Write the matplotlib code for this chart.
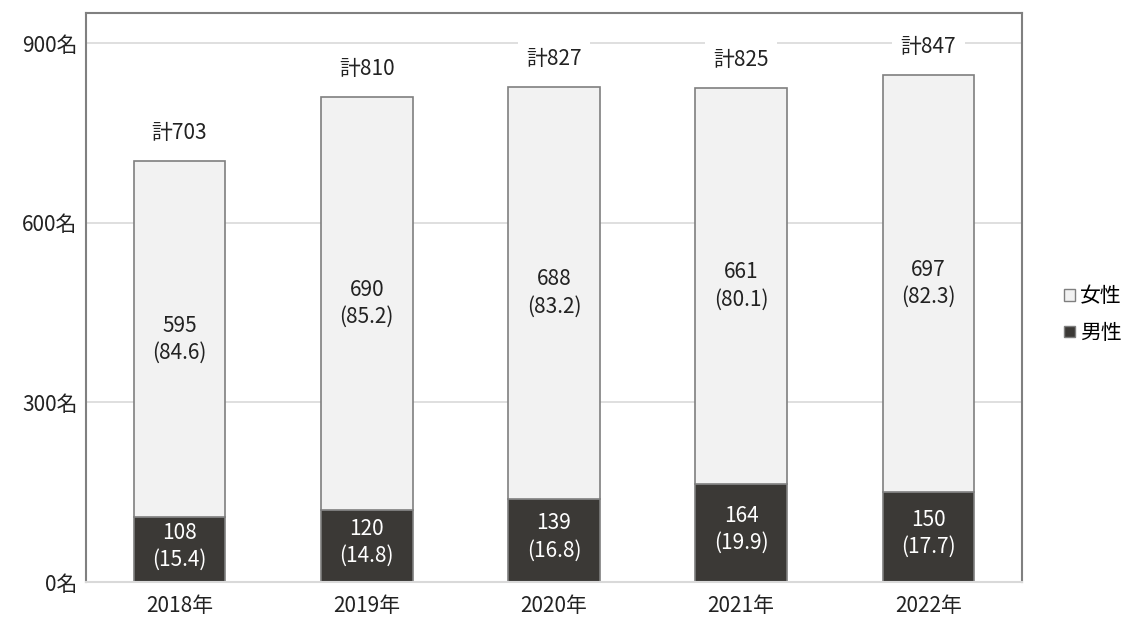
import matplotlib.pyplot as plt
import numpy as np
from matplotlib.patches import Patch

plt.rcParams['font.family'] = ['Noto Sans CJK JP', 'DejaVu Sans']

years = ['2018年', '2019年', '2020年', '2021年', '2022年']
male = [108, 120, 139, 164, 150]
female = [595, 690, 688, 661, 697]
male_pct = [15.4, 14.8, 16.8, 19.9, 17.7]
female_pct = [84.6, 85.2, 83.2, 80.1, 82.3]
totals = [703, 810, 827, 825, 847]
yticks = [0, 300, 600, 900]

fig = plt.figure(figsize=(11.28, 6.23), dpi=100)
ax = fig.add_axes([0.0762, 0.0658, 0.8298, 0.9132])

x = np.arange(len(years))
w = 0.49
edge = '#7f7f7f'
fs = 15
ax.bar(x, male, width=w, color='#3b3936', edgecolor=edge, linewidth=1.2, zorder=2)
ax.bar(x, female, width=w, bottom=male, color='#f2f2f2', edgecolor=edge, linewidth=1.2, zorder=2)

for i in range(len(years)):
    ax.text(x[i], male[i] / 2 + 6, f'{male[i]}\n({male_pct[i]})', ha='center', va='center',
            color='white', fontsize=fs, linespacing=1.3, zorder=3)
    ax.text(x[i], male[i] + female[i] / 2, f'{female[i]}\n({female_pct[i]})', ha='center', va='center',
            color='#222222', fontsize=fs, linespacing=1.3, zorder=3)
    ax.text(x[i], totals[i] + 46, f'計{totals[i]}', ha='center', va='center',
            color='#222222', fontsize=fs, zorder=3,
            bbox=dict(boxstyle='square,pad=0.4', facecolor='white', edgecolor='none'))

ax.set_xlim(-0.5, 4.5)
ax.set_ylim(0, 950)
ax.set_yticks(yticks)
ax.set_yticklabels([f'{v}名' for v in yticks])
ax.set_xticks(x)
ax.set_xticklabels(years)
ax.tick_params(length=0, labelsize=fs, colors='#222222')
ax.tick_params(axis='x', pad=9)
ax.tick_params(axis='y', pad=6)
ax.grid(axis='y', color='#d9d9d9', linewidth=1.2, zorder=0)
ax.set_axisbelow(True)
for s in ax.spines.values():
    s.set_color('#808080')
    s.set_linewidth(1.5)
ax.spines['bottom'].set_color('#d9d9d9')

handles = [Patch(facecolor='#f2f2f2', edgecolor=edge, label='女性'),
           Patch(facecolor='#3b3936', edgecolor=edge, label='男性')]
ax.legend(handles=handles, loc='center left', bbox_to_anchor=(1.025, 0.47), frameon=False,
          fontsize=fs, handlelength=0.5, handleheight=0.5, handletextpad=0.25, labelspacing=0.7)

fig.savefig('out.png', dpi=100)
